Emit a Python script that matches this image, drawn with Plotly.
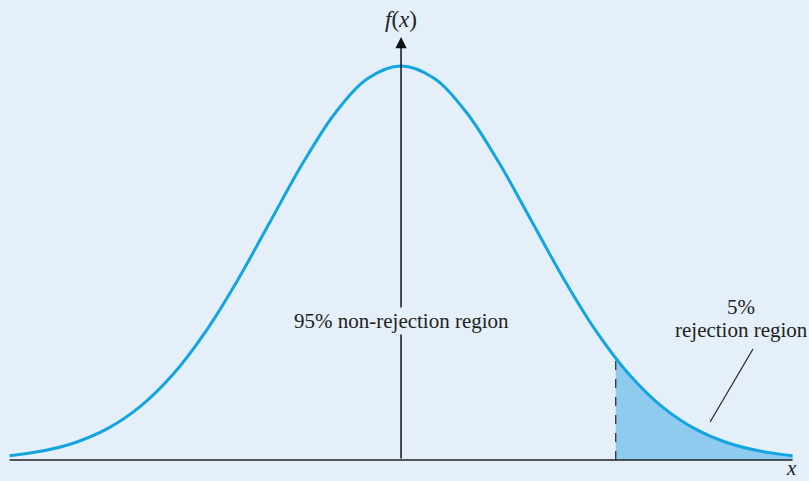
import plotly.graph_objects as go

# standard normal curve, values read at steps of 0.25
z_values = [-3.0, -2.75, -2.5, -2.25, -2.0, -1.75, -1.5, -1.25, -1.0, -0.75, -0.5, -0.25,
            0.0, 0.25, 0.5, 0.75, 1.0, 1.25, 1.5, 1.75, 2.0, 2.25, 2.5, 2.75, 3.0]
density = [0.0044, 0.0091, 0.0175, 0.0317, 0.0540, 0.0863, 0.1295, 0.1826, 0.2420, 0.3011, 0.3521, 0.3867,
           0.3989, 0.3867, 0.3521, 0.3011, 0.2420, 0.1826, 0.1295, 0.0863, 0.0540, 0.0317, 0.0175, 0.0091, 0.0044]

# right tail (5% rejection region)
critical_z = 1.645
critical_density = 0.1031
tail_z = [1.645, 1.75, 2.0, 2.25, 2.5, 2.75, 3.0]
tail_density = [0.1031, 0.0863, 0.0540, 0.0317, 0.0175, 0.0091, 0.0044]

bg = "#e4eff9"
curve_color = "#12a5e0"
fill_color = "#8ecbee"
serif = "Liberation Serif, Times New Roman, serif"
txt = dict(family=serif, size=21, color="#222222")

fig = go.Figure()

# shaded tail
fig.add_trace(go.Scatter(
    x=tail_z, y=tail_density, mode="lines", line=dict(color=fill_color, width=0, shape="spline"),
    fill="tozeroy", fillcolor=fill_color, hoverinfo="skip"
))

# dashed line at the critical value
fig.add_trace(go.Scatter(
    x=[critical_z, critical_z], y=[0, critical_density], mode="lines",
    line=dict(color="#333333", width=1.3, dash="dash"), hoverinfo="skip"
))

# horizontal axis
fig.add_trace(go.Scatter(
    x=[z_values[0], z_values[-1]], y=[0, 0], mode="lines",
    line=dict(color="#222222", width=1.6), hoverinfo="skip"
))

# the curve
fig.add_trace(go.Scatter(
    x=z_values, y=density, mode="lines",
    line=dict(color=curve_color, width=3, shape="spline"), hoverinfo="skip"
))

# vertical axis with arrow
fig.add_annotation(x=0, y=0.4283, ax=0, ay=0, xref="x", yref="y", axref="x", ayref="y",
                   showarrow=True, arrowhead=2, arrowsize=1.5, arrowwidth=1.5, arrowcolor="#111111", text="")

# leader line for the rejection label
fig.add_trace(go.Scatter(
    x=[2.368, 2.697], y=[0.0385, 0.1124], mode="lines",
    line=dict(color="#222222", width=1.2), hoverinfo="skip"
))

fig.add_annotation(x=0, y=0.4455, text="<i>f</i>(<i>x</i>)", showarrow=False,
                   font=dict(family=serif, size=23, color="#222222"))
fig.add_annotation(x=0, y=0.1405, text="95% non-rejection region", showarrow=False, bgcolor=bg, font=txt)
fig.add_annotation(x=2.605, y=0.155, text="5%", showarrow=False, font=txt)
fig.add_annotation(x=2.605, y=0.1315, text="rejection region", showarrow=False, font=txt)
fig.add_annotation(x=2.995, y=0, yref="paper", yanchor="bottom", text="<i>x</i>", showarrow=False,
                   font=txt, borderpad=0)

fig.update_layout(
    width=809, height=481,
    margin=dict(l=0, r=0, t=0, b=0),
    paper_bgcolor=bg, plot_bgcolor=bg,
    showlegend=False,
    xaxis=dict(range=[-3.073, 3.126], visible=False, fixedrange=True),
    yaxis=dict(range=[-0.02126, 0.4657], visible=False, fixedrange=True),
)

fig.write_html("out.html", config={"displayModeBar": False},
               post_script="document.body.style.margin='0';")
